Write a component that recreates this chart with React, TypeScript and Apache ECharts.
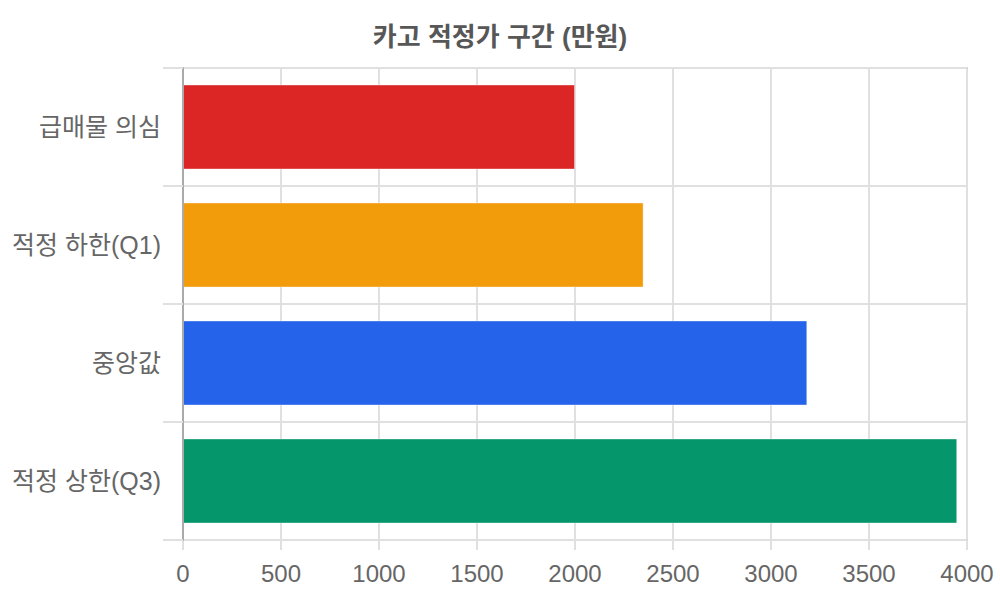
import { useEffect, useRef } from 'react';
import * as echarts from 'echarts';

// ---------------------------------------------------------------------------
// Data
// ---------------------------------------------------------------------------

const CATEGORIES = ['급매물 의심', '적정 하한(Q1)', '중앙값', '적정 상한(Q3)'];
const VALUES = [2000, 2350, 3185, 3950];
const BAR_COLORS = ['#dc2626', '#f39c0b', '#2563eb', '#05966b'];

const X_MIN = 0;
const X_MAX = 4000;
const X_STEP = 500;

const FONT = '"Liberation Sans", Arial, "Noto Sans CJK KR", sans-serif';

function buildOption(): echarts.EChartsOption {
  return {
    animation: false,
    backgroundColor: '#fff',
    title: {
      text: '카고 적정가 구간 (만원)',
      left: 'center',
      top: 19,
      textStyle: { fontFamily: FONT, fontSize: 26, fontWeight: 'bold', color: '#575757' },
    },
    grid: { left: 183, right: 33, top: 68, bottom: 60, containLabel: false, outerBoundsMode: 'none' } as any,
    xAxis: [
      {
        type: 'value',
        min: X_MIN,
        max: X_MAX,
        interval: X_STEP,
        position: 'bottom',
        axisLine: { show: true, lineStyle: { color: '#c8c8c8', width: 2 } },
        axisTick: { show: true, length: 10, lineStyle: { color: '#e0e0e0', width: 2 } },
        splitLine: { show: true, lineStyle: { color: '#e0e0e0', width: 2 } },
        axisLabel: {
          fontFamily: FONT,
          fontSize: 24,
          color: '#666',
          margin: 21,
          formatter: (v: number) => String(v),
        },
      },
      {
        type: 'value',
        min: X_MIN,
        max: X_MAX,
        position: 'top',
        axisLine: { show: true, lineStyle: { color: '#c8c8c8', width: 2 } },
        axisTick: { show: false },
        splitLine: { show: false },
        axisLabel: { show: false },
      },
    ],
    yAxis: {
      type: 'category',
      data: CATEGORIES,
      inverse: true,
      axisLine: { show: true, onZero: false, lineStyle: { color: '#aaa', width: 2 } },
      axisTick: { show: true, length: 20, lineStyle: { color: '#e0e0e0', width: 2 } },
      splitLine: { show: true, lineStyle: { color: '#e0e0e0', width: 2 } },
      axisLabel: { fontFamily: FONT, fontSize: 25, color: '#666', margin: 22 },
      z: 5,
    },
    series: [
      {
        type: 'bar',
        xAxisIndex: 0,
        barCategoryGap: '28%',
        data: VALUES.map((v, i) => ({ value: v, itemStyle: { color: BAR_COLORS[i] } })),
        itemStyle: { borderColor: 'rgba(255,255,255,0.35)', borderWidth: 1 },
      },
    ],
  };
}

export default function App() {
  const containerRef = useRef<HTMLDivElement | null>(null);

  useEffect(() => {
    if (!containerRef.current) return;
    const chart = echarts.init(containerRef.current, undefined, { renderer: 'svg' });
    chart.setOption(buildOption());
    return () => chart.dispose();
  }, []);

  return (
    <div
      ref={containerRef}
      style={{ position: 'fixed', left: 0, top: 0, width: 1000, height: 600 }}
    />
  );
}
